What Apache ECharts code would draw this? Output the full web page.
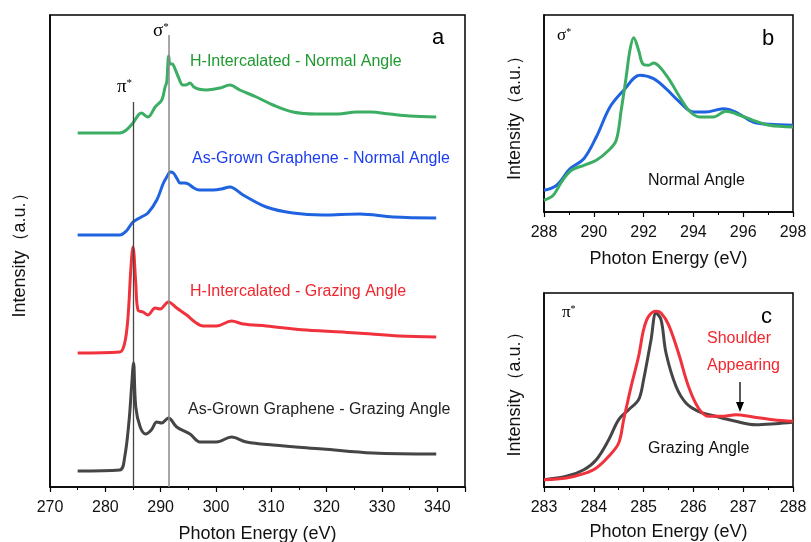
<!DOCTYPE html>
<html><head><meta charset="utf-8">
<script src="https://cdn.jsdelivr.net/npm/echarts@6/dist/echarts.min.js"></script>
<style>html,body{margin:0;padding:0;background:#fff}#c{width:811px;height:542px}</style>
</head><body><div id="c"></div>
<script>
// ---------- Panel a: NEXAFS spectra (offset, arbitrary units) ----------
const hNormalE = [275,282.6,283.8,285.0,286.5,287.7,289.0,290.2,290.8,291.1,291.45,291.7,292.1,292.6,293.2,294.0,294.6,295.3,296.0,296.8,298.3,300.7,302.5,304.3,307.3,310.3,313.9,318.1,322,325.4,328,331.4,335,339.8];
const hNormalI = [354,354,357,364,374,370,380,387,400,405,431,423,423,418,410,402,402,404,400,398,397,399,402,397,390,382,375,373,373,375,375,373,371,370];

const agNormalE = [275,282.6,283.8,285.0,286.5,287.7,289.3,290.5,291.2,291.7,292.3,293.0,293.5,294.3,295.0,296.0,297,299.5,301,302.5,304.9,309.1,313.9,319.3,326.0,332.0,339.8];
const agNormalI = [252,252,256,265,270,274,287,304,311,315,314,308,304,304,303,299,297,297,298,300,292,280,274,272,273,270,269];

const hGrazingE = [275,282.6,283.5,284.1,284.6,285.0,285.5,285.9,286.8,287.7,289.0,289.9,291.4,292.9,294.7,296.2,297.7,300.1,302.8,304.9,309.1,316.3,325.4,333.2,339.8];
const hGrazingI = [134,135,144,170,217,240,204,177,175,172,179,178,185,179,172,165,161,161,166,163,161,157,154,151,150];

const agGrazingE = [275,282.6,283.5,284.3,284.7,285.1,285.5,286.3,287.3,288.3,289.3,290.2,291.4,292.9,295.3,297.1,300.1,302.8,305.5,310.3,319.3,328.3,339.8];
const agGrazingI = [16,17,30,67,97,124,80,60,53,57,65,64,69,60,53,45,45,50,45,42,38,34,33];

const piStar = 285.1, sigmaStar = 291.5;

// ---------- Panel b: sigma* region, normal angle ----------
const bGreenE = [288,288.37,288.7,289.1,289.6,290.1,290.6,290.9,291.1,291.3,291.45,291.6,291.8,291.96,292.2,292.4,292.65,293.05,293.45,293.85,294.25,294.8,295.3,295.7,296.4,297.05,298];
const bGreenI = [11.7,16.7,30,41.7,46.7,51.7,61.7,71.7,101.7,135,161.7,174.3,161.7,148.3,146.7,149,145,131.7,115,100.7,95,95,100.7,98.3,91.7,86.7,85];
const bBlueE = [288,288.5,289.05,289.6,290.1,290.65,291.2,291.85,292.4,292.9,293.45,294,294.5,295.2,295.7,296.4,297.05,298];
const bBlueI = [21.7,26.7,43.3,53.3,75,105,121.7,136.7,133.3,123.3,110,100,100,103.3,100,90,87.7,86.7];

// ---------- Panel c: pi* region, grazing angle ----------
const cRedE = [283,283.45,283.8,284.05,284.3,284.5,284.6,284.75,284.9,285.0,285.1,285.25,285.35,285.5,285.7,285.9,286.1,286.3,286.6,286.85,287.2,287.6,288];
const cRedI = [7.3,9,13.3,19,30.7,44,67.3,100.7,130.7,157.3,170.7,175.7,174,162.3,134,100.7,79,70.7,70.7,72.3,70,67.3,65.7];
const cBlackE = [283,283.45,283.8,284.05,284.3,284.5,284.7,284.9,285.0,285.15,285.25,285.35,285.45,285.65,285.85,286.1,286.45,286.85,287.25,287.65,288];
const cBlackI = [7.3,10.7,17.3,27.3,47.3,67.3,77.3,87.3,107.3,147.3,174,167.3,134,100.7,84,75.7,70.7,65.7,62.3,63.3,64.7];

const pair = (xs, ys) => xs.map((x, i) => [x, ys[i]]);

const FONT = '"Liberation Sans", Arial, sans-serif';
const SERIF = '"Liberation Serif", "Times New Roman", serif';
const GREEN = '#3cae64', BLUE = '#1f63e0', RED = '#f0323c', DARK = '#454545';

function xAx(gi, min, max, interval, opts) {
  return Object.assign({
    gridIndex: gi, type: 'value', min: min, max: max, interval: interval,
    name: 'Photon Energy (eV)', nameLocation: 'middle', nameGap: 38,
    nameTextStyle: {fontFamily: FONT, fontSize: 18, color: '#111'},
    axisLine: {show: true, lineStyle: {color: '#000', width: 1.5}},
    axisTick: {show: true, inside: false, length: 5, lineStyle: {color: '#000', width: 1.2}},
    minorTick: {show: true, splitNumber: 2, length: 3, lineStyle: {color: '#000', width: 1}},
    axisLabel: {fontFamily: FONT, fontSize: 16, color: '#111', margin: 13},
    splitLine: {show: false}
  }, opts || {});
}
function yAx(gi, max, gap) {
  return {
    gridIndex: gi, type: 'value', min: 0, max: max,
    name: 'Intensity（a.u.）', nameLocation: 'middle', nameGap: gap, nameRotate: 90,
    nameTextStyle: {fontFamily: FONT, fontSize: 18, color: '#111'},
    axisLine: {show: true, lineStyle: {color: '#000', width: 1.5}},
    axisTick: {show: false}, axisLabel: {show: false}, splitLine: {show: false}
  };
}
function line(xi, data, color, width, extra) {
  return Object.assign({
    type: 'line', xAxisIndex: xi, yAxisIndex: xi, data: data, showSymbol: false, symbol: 'none',
    smooth: 0.35, lineStyle: {color: color, width: width}, z: 3, silent: true, animation: false
  }, extra || {});
}

const chart = echarts.init(document.getElementById('c'), null, {renderer: 'canvas'});
const gridBox = {show: true, borderColor: '#000', borderWidth: 1.5, backgroundColor: 'transparent', containLabel: false, outerBoundsMode: 'none'};
chart.setOption({
  animation: false,
  grid: [
    Object.assign({left: 50, top: 15, width: 415, height: 472}, gridBox),
    Object.assign({left: 544, top: 15, width: 249, height: 197}, gridBox),
    Object.assign({left: 544, top: 293, width: 249, height: 194}, gridBox)
  ],
  xAxis: [
    xAx(0, 270, 345, 10, {axisLabel: {fontFamily: FONT, fontSize: 16, color: '#111', margin: 13,
      formatter: v => (v % 10 === 0 ? String(v) : '')}}),
    xAx(1, 288, 298, 2),
    xAx(2, 283, 288, 1, {nameGap: 36})
  ],
  yAxis: [yAx(0, 472, 21), yAx(1, 197, 20), yAx(2, 194, 20)],
  series: [
    line(0, pair(hNormalE, hNormalI), GREEN, 3, {
      markLine: {
        silent: true, symbol: 'none', animation: false,
        label: {show: false},
        data: [
          [{coord: [piStar, 0], lineStyle: {color: '#444', width: 1.3, type: 'solid'}}, {coord: [piStar, 385]}],
          [{coord: [sigmaStar, 0], lineStyle: {color: '#8a8a8a', width: 1.5, type: 'solid'}}, {coord: [sigmaStar, 452]}]
        ]
      }
    }),
    line(0, pair(agNormalE, agNormalI), BLUE, 3),
    line(0, pair(hGrazingE, hGrazingI), RED, 3),
    line(0, pair(agGrazingE, agGrazingI), DARK, 3),
    line(1, pair(bBlueE, bBlueI), BLUE, 3),
    line(1, pair(bGreenE, bGreenI), GREEN, 3),
    line(2, pair(cBlackE, cBlackI), DARK, 3),
    line(2, pair(cRedE, cRedI), RED, 3)
  ],
  graphic: [
    {type: 'text', left: 190, top: 54, style: {text: 'H-Intercalated - Normal Angle', font: '16px ' + FONT, fill: '#1f9a30'}},
    {type: 'text', left: 192, top: 151, style: {text: 'As-Grown Graphene - Normal Angle', font: '16px ' + FONT, fill: '#1c3cf0'}},
    {type: 'text', left: 190, top: 284, style: {text: 'H-Intercalated - Grazing Angle', font: '16px ' + FONT, fill: '#f0262e'}},
    {type: 'text', left: 188, top: 402, style: {text: 'As-Grown Graphene - Grazing Angle', font: '16px ' + FONT, fill: '#222'}},
    {type: 'text', left: 432, top: 27, style: {text: 'a', font: '22px ' + FONT, fill: '#000'}},
    {type: 'text', left: 153, top: 22, style: {text: '{m|σ}{s|*}', rich: {m: {fontFamily: SERIF, fontSize: 19, fill: '#000'}, s: {fontFamily: SERIF, fontSize: 11, verticalAlign: 'top', fill: '#000'}}}},
    {type: 'text', left: 117, top: 78, style: {text: '{m|π}{s|*}', rich: {m: {fontFamily: SERIF, fontSize: 19, fill: '#000'}, s: {fontFamily: SERIF, fontSize: 11, verticalAlign: 'top', fill: '#000'}}}},

    {type: 'text', left: 557, top: 27, style: {text: '{m|σ}{s|*}', rich: {m: {fontFamily: SERIF, fontSize: 17, fill: '#000'}, s: {fontFamily: SERIF, fontSize: 10, verticalAlign: 'top', fill: '#000'}}}},
    {type: 'text', left: 762, top: 28, style: {text: 'b', font: '22px ' + FONT, fill: '#000'}},
    {type: 'text', left: 648, top: 173, style: {text: 'Normal Angle', font: '16px ' + FONT, fill: '#111'}},

    {type: 'text', left: 562, top: 304, style: {text: '{m|π}{s|*}', rich: {m: {fontFamily: SERIF, fontSize: 17, fill: '#000'}, s: {fontFamily: SERIF, fontSize: 10, verticalAlign: 'top', fill: '#000'}}}},
    {type: 'text', left: 761, top: 306, style: {text: 'c', font: '22px ' + FONT, fill: '#000'}},
    {type: 'text', left: 707, top: 331, style: {text: 'Shoulder', font: '16px ' + FONT, fill: '#f0262e'}},
    {type: 'text', left: 707, top: 358, style: {text: 'Appearing', font: '16px ' + FONT, fill: '#f0262e'}},
    {type: 'line', shape: {x1: 740, y1: 382, x2: 740, y2: 404}, style: {stroke: '#000', lineWidth: 1.3}},
    {type: 'polygon', shape: {points: [[736, 402], [744, 402], [740, 412]]}, style: {fill: '#000'}},
    {type: 'text', left: 648, top: 441, style: {text: 'Grazing Angle', font: '16px ' + FONT, fill: '#111'}}
  ]
});
</script>
</body></html>
